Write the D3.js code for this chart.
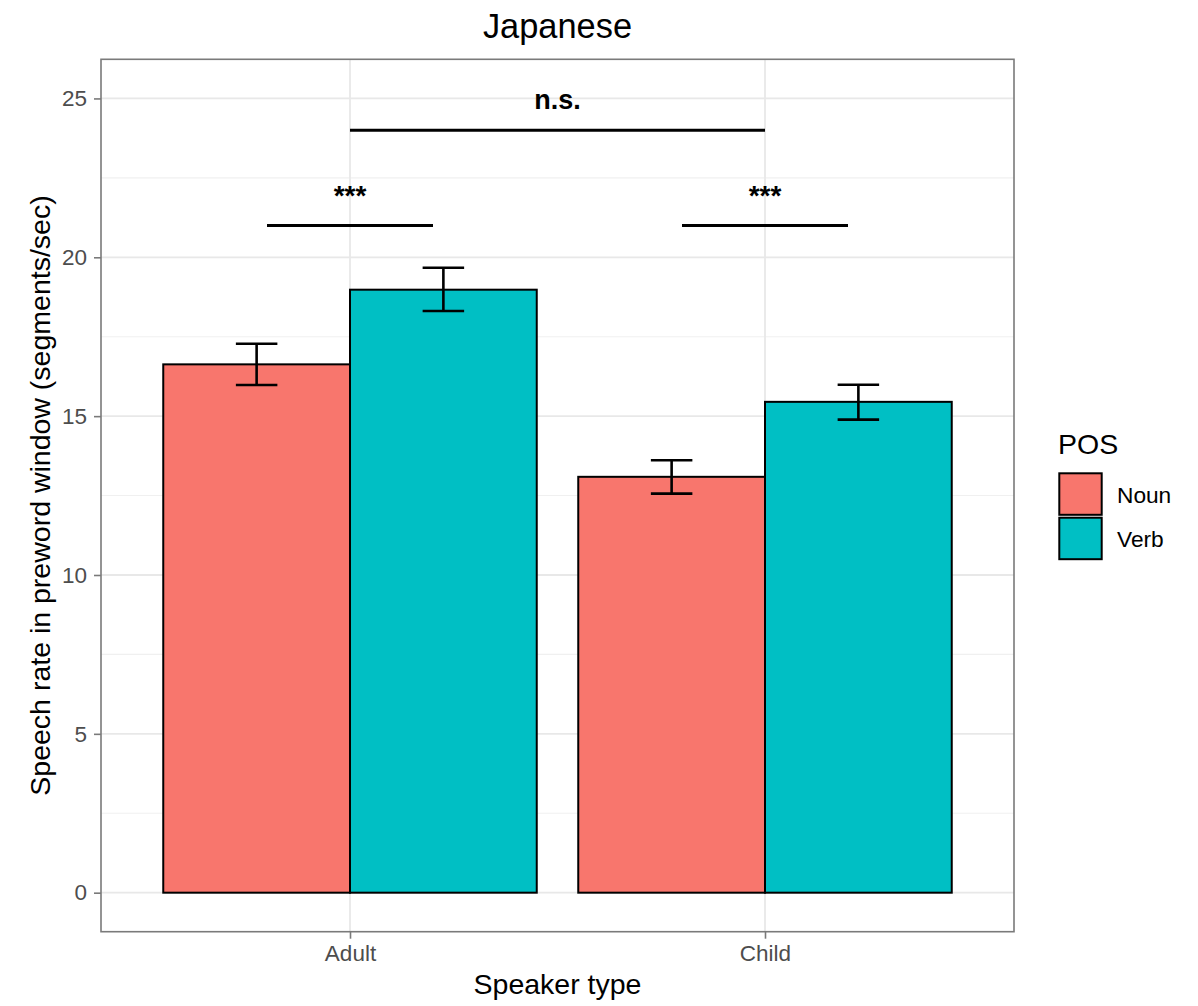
<!DOCTYPE html>
<html>
<head>
<meta charset="utf-8">
<script src="https://cdn.jsdelivr.net/npm/d3@7"></script>
<style>
  html, body { margin: 0; padding: 0; background: #fff; }
  svg text { font-family: "Liberation Sans", Arial, Helvetica, sans-serif; }
</style>
</head>
<body>
<svg id="chart" width="1198" height="1006"></svg>
<script>
// Speech rate by speaker type and part of speech
const categories = ["Adult", "Child"];
const posLevels = ["Noun", "Verb"];
const nounMeans = [16.63, 13.09];
const verbMeans = [18.98, 15.45];
const nounLower = [15.98, 12.56];
const nounUpper = [17.28, 13.61];
const verbLower = [18.31, 14.89];
const verbUpper = [19.67, 15.99];
const yTicks = [0, 5, 10, 15, 20, 25];
const yMinorTicks = [2.5, 7.5, 12.5, 17.5, 22.5];

// significance brackets: start/end on the category axis (1 = Adult, 2 = Child)
const bracketLabels = ["***", "***", "n.s."];
const bracketStart = [0.8, 1.8, 1.0];
const bracketEnd = [1.2, 2.2, 2.0];
const bracketY = [21, 21, 24];

const colors = { Noun: "#F8766D", Verb: "#00BFC4" };

const panel = { left: 101, right: 1014, top: 59.3, bottom: 931.7 };

const x = d3.scaleLinear().domain([0.4, 2.6]).range([panel.left, panel.right]);
const y = d3.scaleLinear().domain([-1.228, 26.232]).range([panel.bottom, panel.top]);

const svg = d3.select("#chart");

// table of bars built from the arrays
const bars = [];
categories.forEach((c, i) => {
  bars.push({ cat: i + 1, pos: "Noun", offset: -0.225, mean: nounMeans[i], lo: nounLower[i], hi: nounUpper[i] });
  bars.push({ cat: i + 1, pos: "Verb", offset: 0.225, mean: verbMeans[i], lo: verbLower[i], hi: verbUpper[i] });
});
const barWidth = 0.45;
const capWidth = 0.1;

// panel background grid
const grid = svg.append("g");
grid.selectAll("line.minor").data(yMinorTicks).join("line")
  .attr("x1", panel.left).attr("x2", panel.right)
  .attr("y1", d => y(d)).attr("y2", d => y(d))
  .attr("stroke", "#f0f0f0").attr("stroke-width", 1.1);
grid.selectAll("line.major").data(yTicks).join("line")
  .attr("x1", panel.left).attr("x2", panel.right)
  .attr("y1", d => y(d)).attr("y2", d => y(d))
  .attr("stroke", "#e8e8e8").attr("stroke-width", 1.8);
grid.selectAll("line.vmajor").data(categories).join("line")
  .attr("x1", (d, i) => x(i + 1)).attr("x2", (d, i) => x(i + 1))
  .attr("y1", panel.top).attr("y2", panel.bottom)
  .attr("stroke", "#e8e8e8").attr("stroke-width", 1.8);

// bars
svg.append("g").selectAll("rect").data(bars).join("rect")
  .attr("x", d => x(d.cat + d.offset - barWidth / 2))
  .attr("width", d => x(d.cat + d.offset + barWidth / 2) - x(d.cat + d.offset - barWidth / 2))
  .attr("y", d => y(d.mean))
  .attr("height", d => y(0) - y(d.mean))
  .attr("fill", d => colors[d.pos])
  .attr("stroke", "#000").attr("stroke-width", 2);

// error bars
const eb = svg.append("g").attr("stroke", "#000").attr("stroke-width", 2.6).attr("fill", "none");
bars.forEach(d => {
  const cx = d.cat + d.offset;
  eb.append("line").attr("x1", x(cx)).attr("x2", x(cx)).attr("y1", y(d.lo)).attr("y2", y(d.hi));
  eb.append("line").attr("x1", x(cx - capWidth / 2)).attr("x2", x(cx + capWidth / 2)).attr("y1", y(d.hi)).attr("y2", y(d.hi));
  eb.append("line").attr("x1", x(cx - capWidth / 2)).attr("x2", x(cx + capWidth / 2)).attr("y1", y(d.lo)).attr("y2", y(d.lo));
});

// significance brackets and labels
const sig = svg.append("g");
bracketLabels.forEach((lab, i) => {
  sig.append("line")
    .attr("x1", x(bracketStart[i])).attr("x2", x(bracketEnd[i]))
    .attr("y1", y(bracketY[i])).attr("y2", y(bracketY[i]))
    .attr("stroke", "#000").attr("stroke-width", 3);
  const isStars = lab.startsWith("*");
  sig.append("text")
    .attr("x", x((bracketStart[i] + bracketEnd[i]) / 2))
    .attr("y", y(bracketY[i]) - (isStars ? 21 : 21.5))
    .attr("text-anchor", "middle")
    .attr("font-weight", "bold")
    .attr("font-size", isStars ? 28 : 27)
    .attr("fill", "#000")
    .text(lab);
});

// panel border
svg.append("rect")
  .attr("x", panel.left).attr("y", panel.top)
  .attr("width", panel.right - panel.left).attr("height", panel.bottom - panel.top)
  .attr("fill", "none").attr("stroke", "#7a7a7a").attr("stroke-width", 1.6);

// y axis
const yAxis = svg.append("g").attr("transform", `translate(${panel.left},0)`)
  .call(d3.axisLeft(y).tickValues(yTicks).tickSize(7).tickPadding(7).tickFormat(d3.format("d")));
yAxis.select(".domain").remove();
yAxis.selectAll(".tick line").attr("stroke", "#7a7a7a").attr("stroke-width", 1.6);
yAxis.selectAll(".tick text").attr("fill", "#4d4d4d").attr("font-size", 22.5)
  .attr("font-family", "Liberation Sans, Arial, sans-serif");

// x axis
const xAxis = svg.append("g").attr("transform", `translate(0,${panel.bottom})`)
  .call(d3.axisBottom(x).tickValues([1, 2]).tickSize(7).tickPadding(6).tickFormat(d => categories[d - 1]));
xAxis.select(".domain").remove();
xAxis.selectAll(".tick line").attr("stroke", "#7a7a7a").attr("stroke-width", 1.6);
xAxis.selectAll(".tick text").attr("fill", "#4d4d4d").attr("font-size", 22.5)
  .attr("font-family", "Liberation Sans, Arial, sans-serif");

// titles
const cx = (panel.left + panel.right) / 2;
svg.append("text").attr("x", cx).attr("y", 38.3).attr("text-anchor", "middle")
  .attr("font-size", 34.4).attr("fill", "#000").text("Japanese");
svg.append("text").attr("x", cx).attr("y", 994).attr("text-anchor", "middle")
  .attr("font-size", 28.5).attr("fill", "#000").text("Speaker type");
svg.append("text")
  .attr("transform", `translate(49.5,${(panel.top + panel.bottom) / 2}) rotate(-90)`)
  .attr("text-anchor", "middle").attr("font-size", 28.5).attr("fill", "#000")
  .text("Speech rate in preword window (segments/sec)");

// legend
const legend = svg.append("g");
legend.append("text").attr("x", 1058).attr("y", 453.5).attr("font-size", 28.5).attr("fill", "#000").text("POS");
const keyTop = [473.3, 517.7];
posLevels.forEach((p, i) => {
  legend.append("rect").attr("x", 1059.3).attr("y", keyTop[i]).attr("width", 42.4).attr("height", 41.5)
    .attr("fill", colors[p]).attr("stroke", "#000").attr("stroke-width", 2);
  legend.append("text").attr("x", 1117).attr("y", keyTop[i] + 29.2).attr("font-size", 22.7)
    .attr("fill", "#000").text(p);
});
</script>
</body>
</html>
